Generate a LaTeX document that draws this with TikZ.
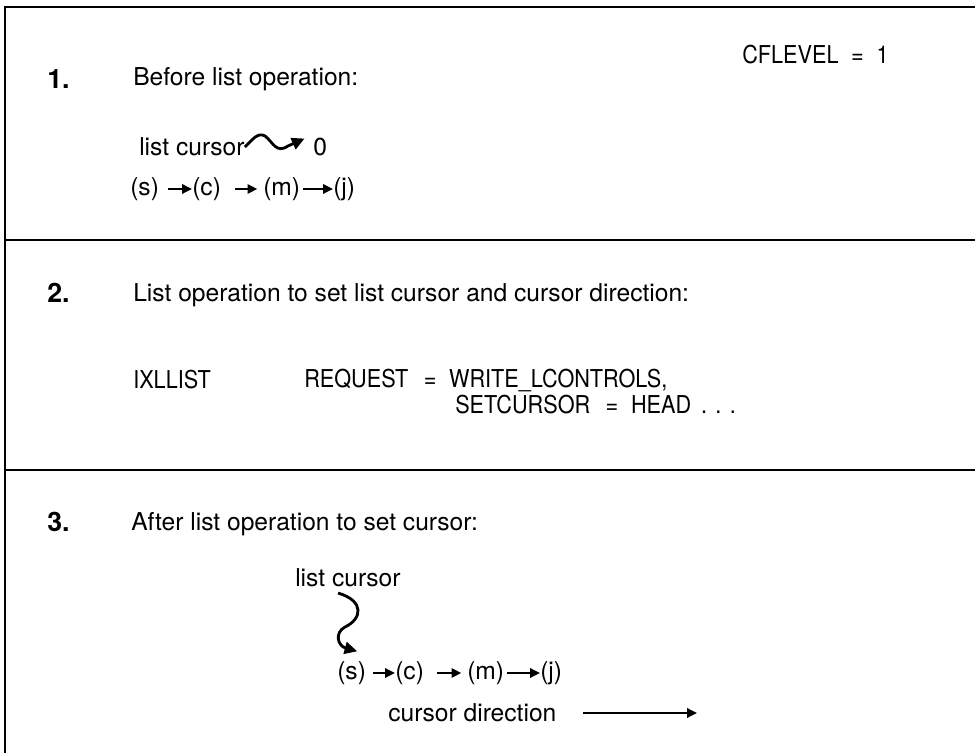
\documentclass[tikz,border=0pt]{standalone}
\usepackage{fontspec}
\setmainfont{TeX Gyre Heros}
\newfontfamily\capsfont[FakeStretch=0.88]{TeX Gyre Heros}
\usetikzlibrary{arrows.meta, positioning}

\begin{document}
\begin{tikzpicture}[x=0.025cm, y=-0.025cm, >={Triangle[length=7pt,width=6.5pt]},
    txt/.style={anchor=west, inner sep=0pt, font=\fontsize{17.5}{20}\selectfont},
    caps/.style={anchor=west, inner sep=0pt, font=\fontsize{17.5}{20}\capsfont},
    num/.style={anchor=west, inner sep=0pt, font=\fontsize{19}{22}\selectfont\bfseries},
    frame/.style={line width=1.8pt},
    link/.style={->, line width=1.7pt},
    curs/.style={->, line width=2pt, >={Triangle[length=9pt,width=8.5pt]}}]

    \useasboundingbox (0,0) rectangle (975,753);

    % --- Frame and separators ---
    \draw[frame] (5,753) -- (5,7) -- (975,7);
    \draw[frame] (5,240) -- (975,240);
    \draw[frame] (5,470) -- (975,470);

    % --- Step 1 ---
    \node[num] (n1) at (47,79) {1.};
    \node[txt] (t1) at (133,79) {Before list operation:};
    \node[caps] (lvl) at (742,55) {CFLEVEL\hspace{9pt}=\hspace{9pt}1};
    \node[txt] (lc1) at (139,147) {list cursor};
    \node[txt] (z1) at (313,147) {0};
    \node[txt] (s1) at (130,189) {(s)};
    \node[txt] (c1) at (192,189) {(c)};
    \node[txt] (m1) at (263,189) {(m)};
    \node[txt] (j1) at (333,189) {(j)};
    \draw[curs] (lc1.east) .. controls (253,139) and (258,132) .. (265,136)
                .. controls (273,142) and (276,154) .. (288,146)
                -- ([xshift=-6pt,yshift=6pt]z1.west);
    \draw[link, shorten <=6pt] (s1) -- (c1);
    \draw[link, shorten <=10pt, shorten >=4pt] (c1) -- (m1);
    \draw[link, shorten <=2pt] (m1) -- (j1);

    % --- Step 2 ---
    \node[num] (n2) at (47,293) {2.};
    \node[txt] (t2) at (133,295) {List operation to set list cursor and cursor direction:};
    \node[caps] (mac) at (133,380) {IXLLIST};
    \node[caps] (req) at (304,380) {REQUEST\hspace{11pt}=\hspace{9pt}WRITE\_LCONTROLS,};
    \node[caps] (set) at (455,405) {SETCURSOR\hspace{11pt}=\hspace{9pt}HEAD\hspace{7pt}.\hspace{6pt}.\hspace{6pt}.};

    % --- Step 3 ---
    \node[num] (n3) at (47,522) {3.};
    \node[txt] (t3) at (131,524) {After list operation to set cursor:};
    \node[txt] (lc3) at (295,578) {list cursor};
    \node[txt] (s3) at (337,673) {(s)};
    \node[txt] (c3) at (395,673) {(c)};
    \node[txt] (m3) at (467,673) {(m)};
    \node[txt] (j3) at (540,673) {(j)};
    \draw[curs] ([xshift=-7pt,yshift=-4pt]lc3.south) .. controls (365,601) and (362,619) .. (345,627)
                .. controls (334,633) and (338,646) .. ([xshift=4pt,yshift=7pt]s3.north);
    \draw[link, shorten <=5pt] (s3) -- (c3);
    \draw[link, shorten <=9pt, shorten >=4pt] (c3) -- (m3);
    \draw[link, shorten <=2pt] (m3) -- (j3);
    \node[txt] (cd) at (388,713) {cursor direction};
    \coordinate (cdend) at (697,713);
    \draw[link, shorten <=19pt] (cd.east) -- (cdend);

\end{tikzpicture}
\end{document}
